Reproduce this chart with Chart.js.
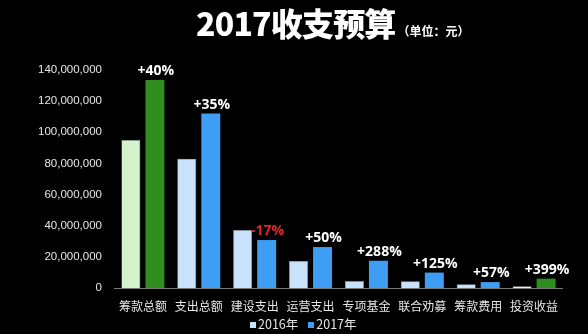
<!DOCTYPE html>
<html><head><meta charset="utf-8">
<script src="https://cdn.jsdelivr.net/npm/chart.js@4/dist/chart.umd.min.js"></script>
<style>
html,body{margin:0;padding:0;background:#000;width:588px;height:334px;overflow:hidden;}
#wrap{position:relative;width:588px;height:334px;}
#title{position:absolute;left:196px;top:-2px;color:#fff;white-space:nowrap;line-height:48px;
 font-family:"Noto Sans CJK SC","Noto Sans",sans-serif;}
#title .main{font-size:32px;font-weight:900;letter-spacing:-0.8px;}
#title .unit{font-size:12px;font-weight:700;margin-left:2px;}
#legend{position:absolute;left:250px;top:316px;height:16px;line-height:16px;white-space:nowrap;color:#e6e6e6;
 font-family:"Noto Sans CJK SC","Noto Sans",sans-serif;font-size:12.5px;}
#legend .item{display:inline-block;margin-right:10px;}
#legend .sw{display:inline-block;width:6px;height:6px;margin-right:2px;vertical-align:1px;}
canvas{position:absolute;left:0;top:0;}
</style></head>
<body><div id="wrap"><canvas id="c" width="588" height="334"></canvas>
<div id="title"><span class="main">2017收支预算</span><span class="unit">（单位：元）</span></div>
<div id="legend"></div></div>
<script>
const categories = ["筹款总额","支出总额","建设支出","运营支出","专项基金","联合劝募","筹款费用","投资收益"];
const values2016 = [95000000, 83000000, 37200000, 17400000, 4500000, 4400000, 2400000, 1200000];
const values2017 = [133500000, 112000000, 30800000, 26300000, 17500000, 9900000, 3800000, 6000000];
const changeLabels = ["+40%","+35%","-17%","+50%","+288%","+125%","+57%","+399%"];
const seriesNames = ["2016年","2017年"];
const yTicks = [0,20000000,40000000,60000000,80000000,100000000,120000000,140000000];

const col16 = ["#d4f3cc","#c8e2fb","#c8e2fb","#c8e2fb","#c8e2fb","#c8e2fb","#c8e2fb","#eef0dc"];
const col17 = ["#2f8c1f","#3d9ef3","#3d9ef3","#3d9ef3","#3d9ef3","#3d9ef3","#3d9ef3","#2f8c1f"];
const legendColors = ["#c8e2fb","#3d9ef3"];

const labelPlugin = {
  id:'changeLabels',
  afterDatasetsDraw(chart){
    const ctx = chart.ctx;
    const meta = chart.getDatasetMeta(1);
    ctx.save();
    ctx.font = 'bold 14px "Open Sans","Noto Sans",sans-serif';
    ctx.textAlign = 'center';
    ctx.textBaseline = 'bottom';
    meta.data.forEach((bar,i)=>{
      const t = changeLabels[i];
      ctx.fillStyle = t.startsWith('-') ? '#e3262a' : '#ffffff';
      ctx.fillText(t, bar.x + 1, bar.y - 2);
    });
    ctx.restore();
  }
};

const chart = new Chart(document.getElementById('c'), {
  type:'bar',
  data:{
    labels:categories,
    datasets:[
      {label:seriesNames[0], data:values2016, backgroundColor:col16, borderColor:'#9aa3ad', borderWidth:0.6,
       categoryPercentage:0.86, barPercentage:0.79},
      {label:seriesNames[1], data:values2017, backgroundColor:col17,
       categoryPercentage:0.86, barPercentage:0.79}
    ]
  },
  options:{
    responsive:false,
    animation:false,
    layout:{padding:{top:70,right:26,left:25,bottom:10}},
    scales:{
      x:{
        grid:{display:false, drawTicks:false},
        border:{display:true,color:'#7a7a7a',width:1},
        ticks:{color:'#e6e6e6',padding:12,maxRotation:0,minRotation:0,autoSkip:false,
          font:{size:12,lineHeight:1,family:'"Noto Sans CJK SC","Noto Sans",sans-serif'}}
      },
      y:{
        min:0,max:140000000,
        afterBuildTicks(axis){ axis.ticks = yTicks.map(v=>({value:v})); },
        grid:{display:false, drawTicks:false},
        border:{display:false},
        ticks:{color:'#e6e6e6',padding:13,font:{size:11.5,family:'"Liberation Sans",Arial,sans-serif'},
          callback:(v)=>v.toLocaleString('en-US')}
      }
    },
    plugins:{
      title:{display:false},
      tooltip:{enabled:false},
      legend:{display:false}
    }
  },
  plugins:[labelPlugin]
});

const lg = document.getElementById('legend');
chart.data.datasets.forEach((ds,i)=>{
  const it = document.createElement('span'); it.className='item';
  const sw = document.createElement('span'); sw.className='sw'; sw.style.background = legendColors[i];
  it.appendChild(sw); it.appendChild(document.createTextNode(ds.label));
  lg.appendChild(it);
});
</script></body></html>
